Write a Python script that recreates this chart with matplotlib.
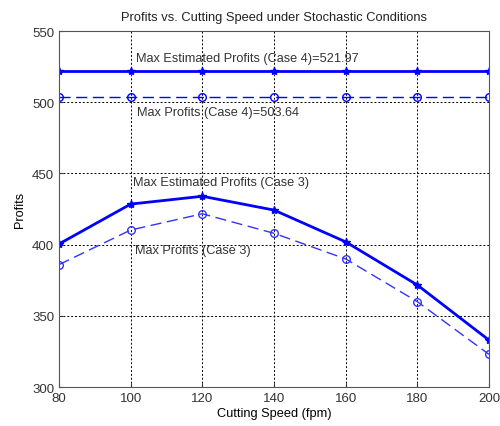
import matplotlib
matplotlib.use("Agg")
import matplotlib.pyplot as plt

speed = [80, 100, 120, 140, 160, 180, 200]
est_case4 = [521.97] * 7
act_case4 = [503.64] * 7
est_case3 = [400.5, 428.5, 434.0, 424.3, 402.0, 371.7, 333.0]
act_case3 = [386.0, 410.3, 421.7, 408.0, 390.0, 360.0, 323.0]

plt.rcParams['font.family'] = ['Liberation Sans', 'DejaVu Sans']
plt.rcParams['font.size'] = 9.2

fig = plt.figure(figsize=(5, 4.27), dpi=100)
ax = fig.add_axes([0.118, 0.091, 0.86, 0.834])

ax.plot(speed, est_case4, '-', color='#0000ff', linewidth=2, marker='*', markersize=6)
ax.plot(speed, act_case4, '--', color='#0000ff', linewidth=1, dashes=(8, 4),
        marker='o', markersize=5.5, markerfacecolor='none')
ax.plot(speed, est_case3, '-', color='#0000ff', linewidth=2, marker='*', markersize=6)
ax.plot(speed, act_case3, '--', color='#3333ff', linewidth=1, dashes=(8, 4),
        marker='o', markersize=5.5, markerfacecolor='none')

ax.text(101.5, 531, 'Max Estimated Profits (Case 4)=521.97', va='center', color='#333333')
ax.text(101.7, 493, 'Max Profits (Case 4)=503.64', va='center', color='#333333')
ax.text(100.6, 444, 'Max Estimated Profits (Case 3)', va='center', color='#333333')
ax.text(101.3, 396.5, 'Max Profits (Case 3)', va='center', color='#333333')

ax.set_xlim(80, 200)
ax.set_ylim(300, 550)
ax.set_xticks(speed)
ax.set_yticks([300, 350, 400, 450, 500, 550])
ax.grid(True, color='black', linestyle=(0, (2, 2)), linewidth=0.7)
ax.tick_params(direction='in', length=3, colors='#333333', labelsize=9.5)
for s in ax.spines.values():
    s.set_color('#555555')

ax.set_xlabel('Cutting Speed (fpm)', labelpad=2)
ax.set_ylabel('Profits', labelpad=4)
ax.set_title('Profits vs. Cutting Speed under Stochastic Conditions',
             fontsize=9.3, color='#222222', pad=8)

fig.savefig('out.png', dpi=100)
